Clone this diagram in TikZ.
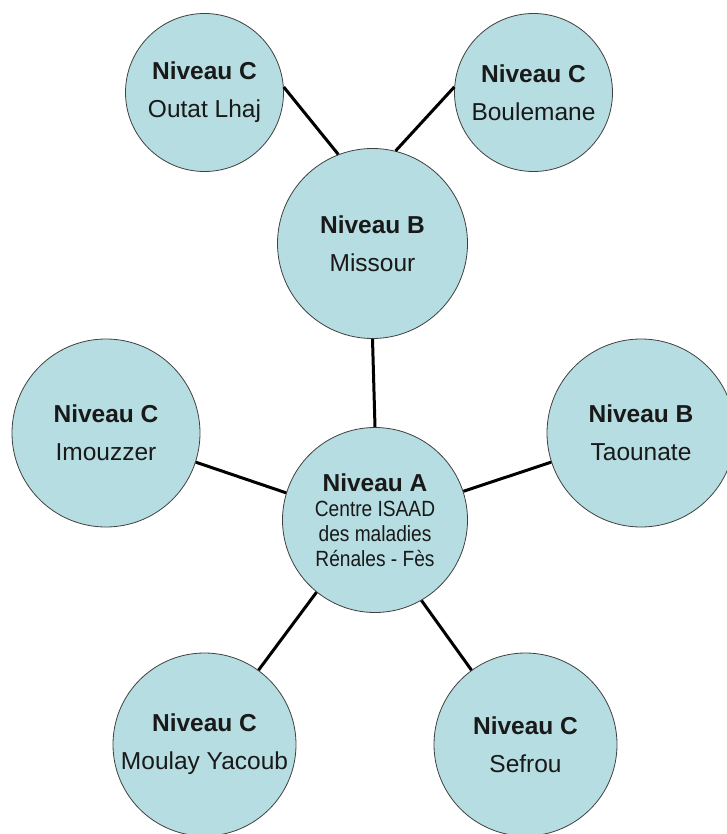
\documentclass[tikz,border=0pt]{standalone}
\usepackage{fontspec}
\setmainfont{Liberation Sans}
\newfontfamily\etroite[FakeStretch=0.87]{Liberation Sans}
\definecolor{bulle}{RGB}{182,221,225}
\tikzset{
  niveau/.style={circle, draw=black!75, line width=0.8pt, fill=bulle, inner sep=0pt,
    align=center, text=black!90, font=\fontsize{24.5}{38}\selectfont},
  lien/.style={line width=3pt, black}
}
\begin{document}
\begin{tikzpicture}[x=1pt,y=-1pt]  % ------ Les niveaux du reseau ------
    \useasboundingbox (0,0) rectangle (726,834);
    \node [niveau, minimum size=158pt] (outat) at (204.5,92.5) {\textbf{Niveau C}\\Outat Lhaj};
    \node [niveau, minimum size=158pt] (boulemane) at (533.5,92.5) {\textbf{Niveau C}\\Boulemane};
    \node [niveau, minimum size=190pt] (missour) at (372.5,243.5) {\textbf{Niveau B}\\Missour};
    \node [niveau, minimum size=188pt] (imouzzer) at (106,433) {\textbf{Niveau C}\\Imouzzer};
    \node [niveau, minimum size=188pt] (taounate) at (641,433) {\textbf{Niveau B}\\Taounate};
    \node [niveau, minimum size=185pt, font=\fontsize{22}{25}\selectfont] (centre) at (375,520)
        {\fontsize{24.5}{25}\selectfont\textbf{Niveau A}\\\etroite Centre ISAAD\\\etroite des maladies\\\etroite Rénales - Fès};
    \node [niveau, minimum size=183pt] (moulay) at (204.5,744.5) {\textbf{Niveau C}\\Moulay Yacoub};
    \node [niveau, minimum size=183pt] (sefrou) at (525.5,744.5) {\textbf{Niveau C}\\Sefrou};
    \draw [lien] (outat.4) -- (missour.111);
    \draw [lien] (boulemane.176) -- (missour.76);
    \draw [lien] (missour.south) -- (centre.north);
    \draw [lien] (imouzzer.-18) -- (centre.163);
    \draw [lien] (taounate.198) -- (centre.18);
    \draw [lien] (centre.231) -- (moulay.54);
    \draw [lien] (centre.-60) -- (sefrou.126);
\end{tikzpicture}
\end{document}
